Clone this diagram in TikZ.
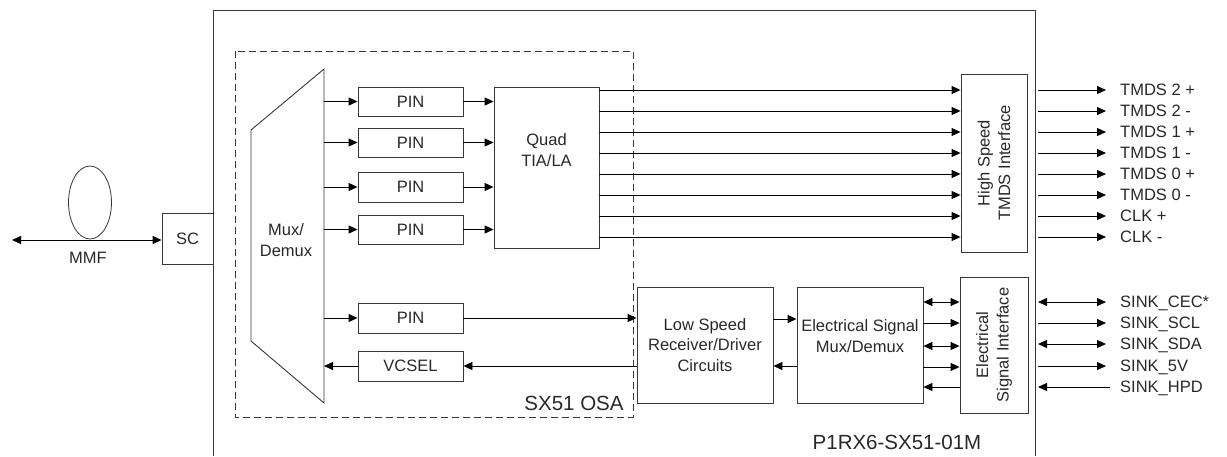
\documentclass[tikz,border=0pt]{standalone}
\usepackage{fontspec}
\setmainfont{Liberation Sans}
\usetikzlibrary{arrows.meta}
\definecolor{txt}{RGB}{40,40,40}
\definecolor{lin}{RGB}{55,55,55}
\begin{document}
\begin{tikzpicture}[x=1pt,y=-1pt,
  every node/.style={font=\fontsize{16.5}{20.5}\selectfont, text=txt, inner sep=0pt},
  box/.style={draw=lin, line width=0.9pt, rectangle},
  lbl/.style={anchor=west, text height=11.8pt, text depth=0pt},
  arr/.style={draw=black, line width=0.9pt, -{Triangle[length=9pt,width=8pt]}},
  larr/.style={draw=black, line width=0.9pt, {Triangle[length=9pt,width=8pt]}-},
  dbl/.style={draw=black, line width=0.9pt, {Triangle[length=9pt,width=8pt]}-{Triangle[length=9pt,width=8pt]}},
  big/.style={font=\fontsize{20.5}{24}\selectfont}
]
\useasboundingbox (0,0) rectangle (1227,456);

% outer module box (bottom edge outside the picture)
\draw[lin, line width=0.9pt] (213,456) -- (213,10) -- (1035,10) -- (1035,456);

% OSA dashed frame
\draw[lin, line width=0.9pt, dash pattern=on 7pt off 4pt] (235,51) rectangle (633,417);
\node[big] (osa) at (574,403) {SX51 OSA};
\node[big] (pn) at (897,442) {P1RX6-SX51-01M};

% fiber
\draw[lin, line width=0.8pt] (90,202.5) ellipse [x radius=21.5, y radius=36.5];
\node[box, minimum width=51pt, minimum height=51pt] (sc) at (187.5,239) {SC};
\coordinate (mmfl) at (12,240);
\draw[dbl] (mmfl) -- (sc.west |- mmfl);
\node (mmf) at (88,258) {MMF};

% Mux/Demux trapezoid
\draw[lin, line width=0.9pt] (251,130) -- (324,69) -- (324,403) -- (251,341) -- cycle;
\node[align=center] (muxt) at (286,240) {Mux/\\Demux};

% PIN boxes
\node[box, minimum width=105pt, minimum height=29pt] (pin1) at (410.5,101.5) {PIN};
\node[box, minimum width=105pt, minimum height=29pt] (pin2) at (410.5,142.5) {PIN};
\node[box, minimum width=105pt, minimum height=30pt] (pin3) at (410.5,187) {PIN};
\node[box, minimum width=105pt, minimum height=29pt] (pin4) at (410.5,229.5) {PIN};
\node[box, minimum width=105pt, minimum height=30pt] (pin5) at (410.5,318) {PIN};
\node[box, minimum width=105pt, minimum height=30pt] (vcsel) at (410.5,366) {VCSEL};

\foreach \i/\yy in {1/101.5,2/142.5,3/187,4/229.5,5/318,6/366}{
  \coordinate (m\i) at (324,\yy);
}
\foreach \i in {1,2,3,4,5}{
  \draw[arr] (m\i) -- (pin\i.west);
}
\draw[larr] (m6) -- (vcsel.west);

% Quad TIA/LA
\node[box, minimum width=105pt, minimum height=161pt] (quad) at (546.5,167.5) {};
\node[align=center] (quadt) at (546.5,150) {Quad\\TIA/LA};
\foreach \i in {1,2,3,4}{
  \draw[arr] (pin\i.east) -- (quad.west |- pin\i.east);
}

% High speed interface
\node[box, rotate=90, minimum width=178pt, minimum height=66pt, align=center] (hs) at (994,163) {High Speed\\TMDS Interface};

\foreach \yy/\t [count=\i] in {90/TMDS 2 +,111/TMDS 2 -,132/TMDS 1 +,153/TMDS 1 -,174/TMDS 0 +,195/TMDS 0 -,216/CLK +,237/CLK -}{
  \draw[arr] (quad.east |- 0,\yy) -- (hs.north |- 0,\yy);
  \node[lbl] (o\i) at (1120,\yy) {\t};
  \coordinate (s\i) at (1038,\yy);
  \draw[arr] (s\i) -- ([xshift=-14pt]o\i.west);
}

% Low speed part
\node[box, minimum width=136pt, minimum height=116pt, align=center] (ls) at (705,345) {Low Speed\\Receiver/Driver\\Circuits};
\node[box, minimum width=126pt, minimum height=116pt] (em) at (860,345) {};
\node[align=center] (emt) at (860,336) {Electrical Signal\\Mux/Demux};
\node[box, rotate=90, minimum width=136pt, minimum height=68pt, align=center] (es) at (994,345) {Electrical\\Signal Interface};

\draw[arr] (pin5.east) -- (ls.west |- pin5.east);
\draw[arr] (ls.west |- vcsel.east) -- (vcsel.east);
\draw[arr] (ls.east |- 0,319) -- (em.west |- 0,319);
\draw[arr] (em.west |- 0,366) -- (ls.east |- 0,366);

\draw[dbl] (em.east |- 0,302) -- (es.north |- 0,302);
\draw[arr] (em.east |- 0,323) -- (es.north |- 0,323);
\draw[dbl] (em.east |- 0,346) -- (es.north |- 0,346);
\draw[arr] (em.east |- 0,367) -- (es.north |- 0,367);
\draw[larr] (em.east |- 0,387) -- (es.north |- 0,387);

\foreach \yy/\t [count=\i] in {302/SINK\_CEC*,323/SINK\_SCL,344/SINK\_SDA,366/SINK\_5V,387/SINK\_HPD}{
  \node[lbl] (k\i) at (1120,\yy) {\t};
  \coordinate (t\i) at (1038,\yy);
}
\draw[dbl] (t1) -- ([xshift=-14pt]k1.west);
\draw[arr] (t2) -- ([xshift=-14pt]k2.west);
\draw[dbl] (t3) -- ([xshift=-14pt]k3.west);
\draw[arr] (t4) -- ([xshift=-14pt]k4.west);
\draw[larr] (t5) -- ([xshift=-10pt]k5.west);
\end{tikzpicture}
\end{document}
